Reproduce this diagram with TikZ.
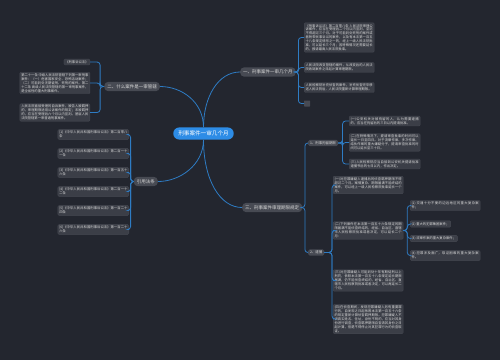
\documentclass[tikz,border=0pt]{standalone}
\usepackage{fontspec}
\newfontfamily\cjk{Noto Sans CJK SC}
\XeTeXlinebreaklocale "zh"
\XeTeXlinebreakskip=0pt plus 1pt
\definecolor{mmbg}{HTML}{23262F}
\definecolor{mmblue}{HTML}{2D8CE6}
\definecolor{mmline}{HTML}{2E7CC4}
\definecolor{mmtopic}{HTML}{474A53}
\definecolor{mmleaf}{HTML}{3B3E47}
\definecolor{mmtext}{HTML}{DADADA}

\begin{document}
\begin{tikzpicture}[x=1pt,y=-1pt,
  root/.style={fill=mmblue,text=white,rounded corners=6pt,inner xsep=5pt,inner ysep=3.5pt,
               font=\cjk\fontsize{5.6}{6.5}\selectfont},
  topic/.style={fill=mmtopic,text=mmtext,rounded corners=4pt,inner xsep=3pt,inner ysep=2.6pt,
                font=\cjk\fontsize{4.5}{5.2}\selectfont},
  subtopic/.style={fill=mmtopic,text=mmtext,rounded corners=1.5pt,inner xsep=2pt,inner ysep=1.6pt,
                   font=\cjk\fontsize{3.4}{4}\selectfont},
  leaf/.style={fill=mmleaf,draw=mmtopic,line width=0.3pt,text=mmtext,rounded corners=1pt,
               inner sep=1.4pt,align=justify,font=\cjk\fontsize{3.3}{3.9}\selectfont},
  link/.style={mmline,line width=0.8pt,rounded corners=3pt}]
  % canvas
  \fill[mmbg] (0,0) rectangle (500,360);
  \useasboundingbox (0,0) rectangle (500,360);

  % central topic
  \node[root] (root) at (203.5,133.5) {刑事案件一审几个月};

  % branch 1 (top right)
  \node[topic,anchor=west] (b1) at (240,72) {一、刑事案件一审几个月};
  \node[leaf,anchor=west,text width=67.2pt] (b1a) at (304,37.5)
    {《刑事诉讼法》第二百零八条 人民法院审理公诉案件，应当在受理后二个月以内宣判，至迟不得超过三个月。对于可能判处死刑的案件或者附带民事诉讼的案件，以及有本法第一百五十八条规定情形之一的，经上一级人民法院批准，可以延长三个月；因特殊情况还需要延长的，报请最高人民法院批准。};
  \node[leaf,anchor=west,text width=67.2pt] (b1b) at (304,67.5)
    {人民法院改变管辖的案件，从改变后的人民法院收到案件之日起计算审理期限。};
  \node[leaf,anchor=west,text width=67.2pt] (b1c) at (304,87.5)
    {人民检察院补充侦查的案件，补充侦查完毕移送人民法院后，人民法院重新计算审理期限。};
  \node[fill=mmtopic,rounded corners=0.5pt,minimum size=6pt,inner sep=0pt,anchor=west] (b1d) at (304,103.5) {};

  % branch 2 (top left)
  \node[topic,anchor=east] (b2) at (160,86.5) {二、什么案件是一审管辖};
  \node[leaf,anchor=east] (b2a) at (90,62) {《刑事诉讼法》};
  \node[leaf,anchor=east,text width=67.2pt] (b2b) at (90,83)
    {第二十一条 中级人民法院管辖下列第一审刑事案件：（一）危害国家安全、恐怖活动案件；（二）可能判处无期徒刑、死刑的案件。第二十二条 高级人民法院管辖的第一审刑事案件，是全省性的重大刑事案件。};
  \node[leaf,anchor=east,text width=67.2pt] (b2c) at (90,112.5)
    {人民法院直接受理的自诉案件，被告人被羁押的，审理期限适用公诉案件的规定；未被羁押的，应当在受理后六个月以内宣判。基层人民法院管辖第一审普通刑事案件。};

  % branch 3 (left)
  \node[topic,anchor=east] (b3) at (158,181.5) {引用法条};
  \node[leaf,anchor=east,text width=68.2pt] (b3a) at (129,134.5) {[1]《中华人民共和国刑事诉讼法》第二百零八条};
  \node[leaf,anchor=east,text width=68.2pt] (b3b) at (129,153.5) {[2]《中华人民共和国刑事诉讼法》第二百一十一条};
  \node[leaf,anchor=east,text width=68.2pt] (b3c) at (129,172.5) {[3]《中华人民共和国刑事诉讼法》第一百五十六条};
  \node[leaf,anchor=east,text width=68.2pt] (b3d) at (129,191.5) {[4]《中华人民共和国刑事诉讼法》第二百一十二条};
  \node[leaf,anchor=east,text width=68.2pt] (b3e) at (129,210.5) {[5]《中华人民共和国刑事诉讼法》第一百二十四条};
  \node[leaf,anchor=east,text width=68.2pt] (b3f) at (129,229.5) {[6]《中华人民共和国刑事诉讼法》第一百二十六条};

  % branch 4 (bottom right)
  \node[topic,anchor=west] (b4) at (242,207.5) {三、刑事案件审理期限规定};
  \node[subtopic,anchor=west] (n1) at (308,143) {1、刑事拘留期限};
  \node[leaf,anchor=west,text width=68.2pt] (n1a) at (349,121)
    {(一)公安机关对被拘留的人，认为需要逮捕的，应当在拘留后的三日以内提请批准。};
  \node[leaf,anchor=west,text width=68.2pt] (n1b) at (349,142.5)
    {(二)在特殊情况下，提请审查批准的时间可以延长一日至四日。对于流窜作案、多次作案、结伙作案的重大嫌疑分子，提请审查批准的时间可以延长至三十日。};
  \node[leaf,anchor=west,text width=68.2pt] (n1c) at (349,164)
    {(三)人民检察院应当自接到公安机关提请批准逮捕书后的七日以内，作出决定。};
  \node[subtopic,anchor=west] (n2) at (308,252.5) {2、逮捕};
  \node[leaf,anchor=west,text width=67.2pt] (n2a) at (333,185)
    {(一)对犯罪嫌疑人逮捕后的侦查羁押期限不得超过二个月。案情复杂、期限届满不能终结的案件，可以经上一级人民检察院批准延长一个月。};
  \node[leaf,anchor=west,text width=67.2pt] (n2b) at (333,230.5)
    {(二)下列案件在本法第一百五十六条规定的期限届满不能侦查终结的，经省、自治区、直辖市人民检察院批准或者决定，可以延长二个月：};
  \node[leaf,anchor=west,text width=67.2pt] (n2c) at (333,280.5)
    {(三)对犯罪嫌疑人可能判处十年有期徒刑以上刑罚，依照本法第一百五十八条规定延长期限届满，仍不能侦查终结的，经省、自治区、直辖市人民检察院批准或者决定，可以再延长二个月。};
  \node[leaf,anchor=west,text width=67.2pt] (n2d) at (333,319)
    {(四)在侦查期间，发现犯罪嫌疑人另有重要罪行的，自发现之日起依照本法第一百五十六条的规定重新计算侦查羁押期限。犯罪嫌疑人不讲真实姓名、住址，身份不明的，应当对其身份进行调查，侦查羁押期限自查清其身份之日起计算，但是不得停止对其犯罪行为的侦查取证。};
  \node[leaf,anchor=west,text width=67.2pt] (m1) at (410,205.5) {(1) 交通十分不便的边远地区的重大复杂案件；};
  \node[leaf,anchor=west] (m2) at (410,224) {(2) 重大的犯罪集团案件；};
  \node[leaf,anchor=west] (m3) at (410,238.5) {(3) 流窜作案的重大复杂案件；};
  \node[leaf,anchor=west,text width=67.2pt] (m4) at (410,255.5) {(4) 犯罪涉及面广，取证困难的重大复杂案件。};

  % links from the central topic
  \draw[link] (root.north) .. controls +(0,-30) and +(-22,0) .. (b1.west);
  \draw[link] (root.north) .. controls +(0,-25) and +(22,0) .. (b2.east);
  \draw[link] (root.south) .. controls +(0,25) and +(22,0) .. (b3.east);
  \draw[link] (root.south) .. controls +(0,40) and +(-22,0) .. (b4.west);

  % brackets to the leaves
  \foreach \c in {b1a,b1b,b1c,b1d}
    \draw[link] (b1.east) -- ++(2.5,0) |- (\c.west);
  \foreach \c in {b2a,b2b,b2c}
    \draw[link] (b2.west) -- ++(-4,0) |- (\c.east);
  \foreach \c in {b3a,b3b,b3c,b3d,b3e,b3f}
    \draw[link] (b3.west) -- ++(-3,0) |- (\c.east);
  \foreach \c in {n1,n2}
    \draw[link] (b4.east) -- ++(2.5,0) |- (\c.west);
  \foreach \c in {n1a,n1b,n1c}
    \draw[link] (n1.east) -- ++(4.5,0) |- (\c.west);
  \foreach \c in {n2a,n2b,n2c,n2d}
    \draw[link] (n2.east) -- ++(7.5,0) |- (\c.west);
  \foreach \c in {m1,m2,m3,m4}
    \draw[link] (n2b.east) -- ++(4,0) |- (\c.west);
\end{tikzpicture}
\end{document}
